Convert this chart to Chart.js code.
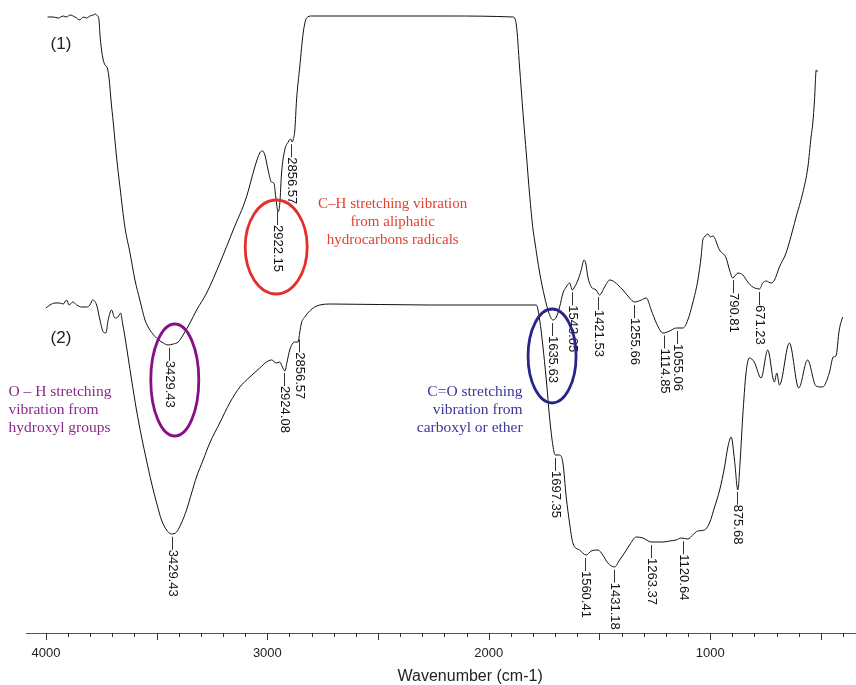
<!DOCTYPE html>
<html>
<head>
<meta charset="utf-8">
<title>FTIR spectra</title>
<script src="https://cdn.jsdelivr.net/npm/chart.js@4.4.1/dist/chart.umd.min.js"></script>
<style>
  html, body { margin: 0; padding: 0; background: #fff; }
  #wrap { width: 856px; height: 685px; }
</style>
</head>
<body>
<div id="wrap"><canvas id="ftir" width="856" height="685"></canvas></div>
<script>
// Spectrum (1) - wavenumber (cm-1) and transmittance (arbitrary units)
const wn1 = [3997, 3971, 3947, 3924, 3908, 3893, 3869, 3846, 3831, 3815, 3799, 3784, 3776, 3768,
  3757, 3753, 3745, 3737, 3729, 3718, 3709, 3701, 3690, 3675, 3659, 3636, 3612, 3589, 3566, 3542,
  3519, 3488, 3457, 3434, 3410, 3387, 3364, 3332, 3301, 3254, 3192, 3130, 3068, 3029, 3006, 2993,
  2982, 2967, 2951, 2940, 2931, 2920, 2912, 2904, 2889, 2873, 2861, 2855, 2850, 2842, 2834, 2819,
  2803, 2787, 2764, 2352, 2118, 1823, 1807, 1792, 1776, 1760, 1745, 1729, 1722, 1698, 1675, 1655,
  1636, 1620, 1605, 1589, 1574, 1558, 1546, 1535, 1519, 1504, 1491, 1483, 1473, 1457, 1434, 1418,
  1395, 1371, 1348, 1333, 1309, 1278, 1255, 1223, 1200, 1177, 1153, 1122, 1091, 1060, 1029, 1006,
  983, 959, 944, 936, 928, 912, 901, 889, 858, 827, 811, 796, 772, 749, 726, 702, 671, 656, 640,
  617, 601, 578, 547, 516, 500, 469, 445, 430, 422, 414, 406, 399];
const t1 = [616, 616, 615, 617, 616, 618, 616, 613, 616, 615, 617, 618, 619, 618,
  613, 600, 583, 573, 568, 565, 553, 533, 510, 476, 446, 406, 380, 353, 333, 313,
  303, 295, 290, 288, 289, 291, 298, 310, 323, 340, 370, 403, 436, 466, 480, 482,
  478, 463, 451, 450, 436, 421, 430, 460, 483, 491, 494, 491, 493, 503, 533, 566,
  600, 615, 617, 617, 617, 616, 608, 566, 520, 478, 438, 403, 393, 360, 336, 320,
  313, 316, 326, 340, 346, 350, 343, 346, 353, 363, 373, 370, 356, 346, 343, 338,
  346, 353, 351, 348, 343, 335, 331, 333, 335, 323, 310, 300, 302, 305, 305, 313,
  330, 353, 376, 393, 396, 399, 396, 397, 383, 375, 363, 355, 360, 358, 351, 346, 344, 350, 352,
  350, 353, 366, 380, 403, 416, 440, 466, 496, 510, 533, 563, 561];

// Spectrum (2)
const wn2 = [4000, 3982, 3959, 3937, 3922, 3907, 3895, 3879, 3861, 3839, 3816, 3801, 3789, 3771,
  3756, 3741, 3729, 3719, 3703, 3692, 3681, 3669, 3663, 3654, 3643, 3629, 3613, 3591, 3568, 3546,
  3523, 3500, 3478, 3455, 3433, 3410, 3388, 3365, 3342, 3320, 3290, 3260, 3215, 3170, 3124, 3079,
  3034, 3004, 2981, 2959, 2944, 2932, 2921, 2911, 2899, 2884, 2872, 2861, 2854, 2846, 2831, 2809,
  2786, 2763, 2718, 2267, 1785, 1770, 1756, 1740, 1725, 1710, 1700, 1680, 1665, 1650, 1635, 1620,
  1590, 1560, 1537, 1507, 1485, 1462, 1432, 1409, 1387, 1364, 1334, 1304, 1266, 1244, 1214, 1184,
  1154, 1131, 1101, 1079, 1056, 1026, 1003, 980, 957, 935, 920, 905, 890, 875, 865, 853, 838, 823,
  801, 770, 740, 710, 699, 687, 642, 600, 560, 522, 492, 462, 444, 432, 417, 402];
const t2 = [325, 328, 330, 330, 329, 333, 328, 331, 328, 326, 326, 328, 333, 328,
  313, 301, 300, 313, 323, 316, 315, 318, 320, 310, 296, 276, 253, 223, 196, 173,
  150, 130, 113, 103, 99, 101, 110, 123, 140, 156, 173, 190, 210, 230, 246, 256,
  265, 271, 273, 270, 271, 266, 262, 271, 283, 290, 291, 291, 300, 310, 316, 322,
  326, 328, 329, 328, 328, 313, 288, 253, 215, 187, 178, 178, 170, 136, 110, 90,
  83, 78, 82, 83, 78, 70, 66, 73, 80, 88, 96, 95, 91, 91, 91, 92,
  93, 95, 94, 98, 102, 103, 110, 126, 143, 166, 186, 196, 173, 143, 170, 216, 260, 275,
  271, 255, 283, 251, 260, 248, 290, 245, 273, 247, 246, 260, 276, 277, 303, 316];

// Marked peaks
const peaks1 = [3429.43, 2922.15, 2856.57, 1635.63, 1543.05, 1421.53, 1255.66, 1114.85, 1055.06, 790.81, 671.23];
const peaks2 = [3429.43, 2924.08, 2856.57, 1697.35, 1560.41, 1431.18, 1263.37, 1120.64, 875.68];

// Axis labels
const tickLabels = [4000, 3000, 2000, 1000];
const axisTitle = "Wavenumber (cm-1)";

// Annotations (anchored in wavenumber / transmittance units)
const notes = [
  { lines: ["C\u2013H stretching vibration", "from aliphatic", "hydrocarbons radicals"],
    color: "#e5402f", align: "center", wn: 2434, t: 429, size: 15 },
  { lines: ["O \u2013 H stretching", "vibration from", "hydroxyl groups"],
    color: "#8c2a8c", align: "left", wn: 4169, t: 241, size: 15.5 },
  { lines: ["C=O stretching", "vibration from", "carboxyl or ether"],
    color: "#3a3796", align: "right", wn: 1847, t: 241, size: 15.5 },
];
const rings = [
  { wn: 2960, t: 386, rx: 31, ry: 47, color: "#e3302a" },
  { wn: 3418, t: 253, rx: 24, ry: 56, color: "#870f87" },
  { wn: 1714, t: 277, rx: 24, ry: 47, color: "#2a2688" },
];
const curveTags = [
  { text: "(1)", wn: 3932, t: 589 },
  { text: "(2)", wn: 3932, t: 295 },
];

function toPoints(xs, ys) {
  return xs.map((v, i) => ({ x: v, y: ys[i] }));
}

// value of a curve at a given wavenumber (used only to place the peak labels)
function valueAt(xs, ys, w) {
  for (let i = 0; i < xs.length - 1; i++) {
    if (w <= xs[i] && w >= xs[i + 1]) {
      const f = (xs[i] - w) / (xs[i] - xs[i + 1]);
      return ys[i] + (ys[i + 1] - ys[i]) * f;
    }
  }
  return ys[ys.length - 1];
}

function drawPeakLabels(ctx, peaks, xs, ys, xScale, yScale) {
  ctx.font = "13px 'Liberation Sans', Arial, sans-serif";
  ctx.fillStyle = "#111";
  ctx.textAlign = "left";
  ctx.textBaseline = "middle";
  peaks.forEach((p) => {
    const px = xScale.getPixelForValue(p);
    const py = yScale.getPixelForValue(valueAt(xs, ys, p)) + 3;
    ctx.save();
    ctx.translate(px, py);
    ctx.rotate(Math.PI / 2);
    ctx.fillText("\u2014" + p.toFixed(2), 0, 0);
    ctx.restore();
  });
}

const overlay = {
  id: "overlay",
  afterDraw(chart) {
    const { ctx } = chart;
    const { x, x2, y } = chart.scales;
    ctx.save();

    // tick marks below the axis line, longer every 500
    ctx.strokeStyle = "#333";
    ctx.lineWidth = 1;
    x.ticks.forEach((tk) => {
      const px = Math.round(x.getPixelForValue(tk.value)) + 0.5;
      const len = tk.value % 500 === 0 ? 7 : 4;
      ctx.beginPath();
      ctx.moveTo(px, x.top);
      ctx.lineTo(px, x.top + len);
      ctx.stroke();
    });

    // axis title
    ctx.fillStyle = "#222";
    ctx.font = "16px 'Liberation Sans', Arial, sans-serif";
    ctx.textAlign = "center";
    ctx.textBaseline = "middle";
    ctx.fillText(axisTitle, x.getPixelForValue(2084), 677);

    // curve tags
    ctx.font = "17px 'Liberation Sans', Arial, sans-serif";
    curveTags.forEach((c) => {
      ctx.fillText(c.text, x.getPixelForValue(c.wn), y.getPixelForValue(c.t));
    });

    drawPeakLabels(ctx, peaks1, wn1, t1, x2, y);
    drawPeakLabels(ctx, peaks2, wn2, t2, x, y);

    // explanatory notes
    notes.forEach((n) => {
      ctx.font = n.size + "px 'Liberation Serif', 'Times New Roman', serif";
      ctx.fillStyle = n.color;
      ctx.textAlign = n.align;
      ctx.textBaseline = "middle";
      const px = x.getPixelForValue(n.wn);
      const py = y.getPixelForValue(n.t);
      n.lines.forEach((line, i) => ctx.fillText(line, px, py + i * 18));
    });

    // ellipses around the bands
    rings.forEach((r) => {
      ctx.beginPath();
      ctx.ellipse(x.getPixelForValue(r.wn), y.getPixelForValue(r.t), r.rx, r.ry, 0, 0, Math.PI * 2);
      ctx.strokeStyle = r.color;
      ctx.lineWidth = 2.8;
      ctx.stroke();
    });

    ctx.restore();
  },
};

new Chart(document.getElementById("ftir"), {
  type: "line",
  data: {
    datasets: [
      {
        label: "(1)",
        data: toPoints(wn1, t1),
        xAxisID: "x2",
        borderColor: "#111",
        borderWidth: 1,
        pointRadius: 0,
        cubicInterpolationMode: "monotone",
      },
      {
        label: "(2)",
        data: toPoints(wn2, t2),
        xAxisID: "x",
        borderColor: "#111",
        borderWidth: 1,
        pointRadius: 0,
        cubicInterpolationMode: "monotone",
      },
    ],
  },
  options: {
    responsive: false,
    animation: false,
    devicePixelRatio: 1,
    layout: { autoPadding: false, padding: { left: 26, right: 0, top: 0, bottom: 0 } },
    plugins: { legend: { display: false }, tooltip: { enabled: false } },
    scales: {
      x: {
        type: "linear",
        reverse: true,
        min: 344,
        max: 4090,
        afterFit: (s) => { s.height = 52; },
        grid: { display: false, drawTicks: false },
        border: { display: true, color: "#555", width: 1 },
        ticks: {
          stepSize: 100,
          includeBounds: false,
          autoSkip: false,
          maxRotation: 0,
          padding: 13,
          color: "#222",
          font: { family: "'Liberation Sans', Arial, sans-serif", size: 13 },
          callback: (v) => (tickLabels.includes(v) ? String(v) : ""),
        },
      },
      x2: {
        type: "linear",
        display: false,
        reverse: true,
        min: 223,
        max: 4098,
      },
      y: {
        type: "linear",
        display: false,
        min: 0,
        max: 633,
      },
    },
  },
  plugins: [overlay],
});
</script>
</body>
</html>
